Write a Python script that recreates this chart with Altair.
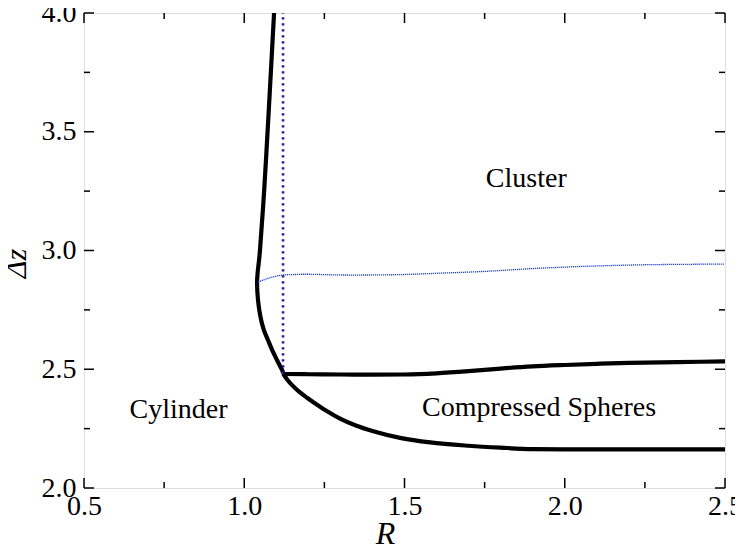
import altair as alt
import pandas as pd

# ---- data ----
# cylinder boundary, top -> nose -> junction
cyl_R = [1.093, 1.085, 1.074, 1.062, 1.049, 1.042, 1.040, 1.043, 1.050, 1.060, 1.074, 1.088, 1.102, 1.118, 1.121]
cyl_z = [4.000, 3.800, 3.530, 3.250, 3.000, 2.910, 2.860, 2.790, 2.725, 2.670, 2.623, 2.578, 2.539, 2.497, 2.482]
# lower boundary of compressed spheres, junction -> right edge
low_R = [1.121, 1.135, 1.150, 1.170, 1.195, 1.226, 1.260, 1.299, 1.350, 1.400, 1.490, 1.580, 1.700, 1.800, 1.900, 2.000, 2.500]
low_z = [2.482, 2.455, 2.432, 2.407, 2.381, 2.352, 2.322, 2.292, 2.262, 2.240, 2.210, 2.192, 2.178, 2.170, 2.164, 2.163, 2.163]
# upper boundary of compressed spheres
up_R = [1.121, 1.200, 1.300, 1.400, 1.500, 1.600, 1.700, 1.800, 1.900, 2.000, 2.100, 2.200, 2.350, 2.500]
up_z = [2.480, 2.479, 2.478, 2.477, 2.478, 2.483, 2.492, 2.503, 2.512, 2.518, 2.523, 2.527, 2.530, 2.533]
# blue dotted line
blue_R = [1.043, 1.060, 1.080, 1.100, 1.121, 1.160, 1.200, 1.300, 1.400, 1.500, 1.600, 1.750, 1.900, 2.000, 2.100, 2.250, 2.400, 2.500]
blue_z = [2.867, 2.876, 2.885, 2.892, 2.897, 2.899, 2.900, 2.897, 2.897, 2.899, 2.904, 2.912, 2.924, 2.930, 2.935, 2.940, 2.942, 2.943]
# vertical dotted line
vert_R = [1.121, 1.121]
vert_z = [2.482, 4.000]

labels = ["Cluster", "Compressed Spheres", "Cylinder"]
label_R = [1.88, 1.92, 0.795]
label_z = [3.30, 2.337, 2.33]

x_major = [0.5, 1.0, 1.5, 2.0, 2.5]
x_minor = [0.75, 1.25, 1.75, 2.25]
y_major = [2.0, 2.5, 3.0, 3.5, 4.0]
y_minor = [2.25, 2.75, 3.25, 3.75]

W, H = 641, 475
FONT = "Times New Roman, Liberation Serif, serif"

xs = alt.Scale(domain=[0.5, 2.5], nice=False, zero=False)
ys = alt.Scale(domain=[2.0, 4.0], nice=False, zero=False)


def line_df(R, z):
    return pd.DataFrame({"R": R, "z": z, "o": list(range(len(R)))})


xax = alt.Axis(values=x_major, format=".1f", ticks=False, domain=False, grid=False,
               labelFont=FONT, labelFontSize=28, labelColor="black", labelPadding=4,
               labelFlush=False, labelOverlap=False,
               title="R", titleFont=FONT, titleFontSize=32, titleFontStyle="italic",
               titleFontWeight="normal", titleColor="black", titlePadding=-2, titleX=301)
yax = alt.Axis(values=y_major, format=".1f", ticks=False, domain=False, grid=False,
               labelFont=FONT, labelFontSize=28, labelColor="black", labelPadding=8,
               labelFlush=False, labelOverlap=False,
               title="Δz", titleFont=FONT, titleFontSize=30, titleFontStyle="italic",
               titleFontWeight="normal", titleColor="black", titlePadding=10, titleY=250)

cyl = alt.Chart(line_df(cyl_R, cyl_z)).mark_line(
    color="black", strokeWidth=4.2, interpolate="cardinal").encode(
    x=alt.X("R:Q", scale=xs, axis=xax),
    y=alt.Y("z:Q", scale=ys, axis=yax),
    order="o:Q")

low = alt.Chart(line_df(low_R, low_z)).mark_line(
    color="black", strokeWidth=4.2, interpolate="monotone").encode(
    x=alt.X("R:Q", scale=xs), y=alt.Y("z:Q", scale=ys), order="o:Q")

upper = alt.Chart(line_df(up_R, up_z)).mark_line(
    color="black", strokeWidth=4.2, interpolate="monotone").encode(
    x=alt.X("R:Q", scale=xs), y=alt.Y("z:Q", scale=ys), order="o:Q")

blue = alt.Chart(line_df(blue_R, blue_z)).mark_line(
    color="#1f3bff", strokeWidth=1.3, strokeDash=[1.2, 0.8], interpolate="cardinal").encode(
    x=alt.X("R:Q", scale=xs), y=alt.Y("z:Q", scale=ys), order="o:Q")

vert = alt.Chart(line_df(vert_R, vert_z)).mark_line(
    color="#1a1a9a", strokeWidth=2.6, strokeDash=[2.4, 3.6]).encode(
    x=alt.X("R:Q", scale=xs), y=alt.Y("z:Q", scale=ys), order="o:Q")

text = alt.Chart(pd.DataFrame({"R": label_R, "z": label_z, "t": labels})).mark_text(
    font=FONT, fontSize=28, color="black", align="center", baseline="middle").encode(
    x=alt.X("R:Q", scale=xs), y=alt.Y("z:Q", scale=ys), text="t:N")


def xticks(vals, length):
    df = pd.DataFrame({"R": vals})
    b = alt.Chart(df).mark_rule(color="black", strokeWidth=1.5)
    bottom = b.encode(x=alt.X("R:Q", scale=xs), y=alt.value(H), y2=alt.value(H - length))
    top = b.encode(x=alt.X("R:Q", scale=xs), y=alt.value(0), y2=alt.value(length))
    return [bottom, top]


def yticks(vals, length):
    df = pd.DataFrame({"z": vals})
    b = alt.Chart(df).mark_rule(color="black", strokeWidth=1.5)
    left = b.encode(y=alt.Y("z:Q", scale=ys), x=alt.value(0), x2=alt.value(length))
    right = b.encode(y=alt.Y("z:Q", scale=ys), x=alt.value(W), x2=alt.value(W - length))
    return [left, right]


tick_layers = xticks(x_major, 10) + xticks(x_minor, 6) + yticks(y_major, 10) + yticks(y_minor, 6)

chart = alt.layer(cyl, low, upper, blue, vert, text, *tick_layers).properties(
    width=W, height=H,
    padding={"left": 76, "top": 5, "right": 10, "bottom": 62},
    autosize=alt.AutoSizeParams(type="none"),
).configure_view(stroke="black", strokeWidth=2).configure(background="white")

chart.save("out.html", embed_options={"renderer": "svg", "actions": False})
